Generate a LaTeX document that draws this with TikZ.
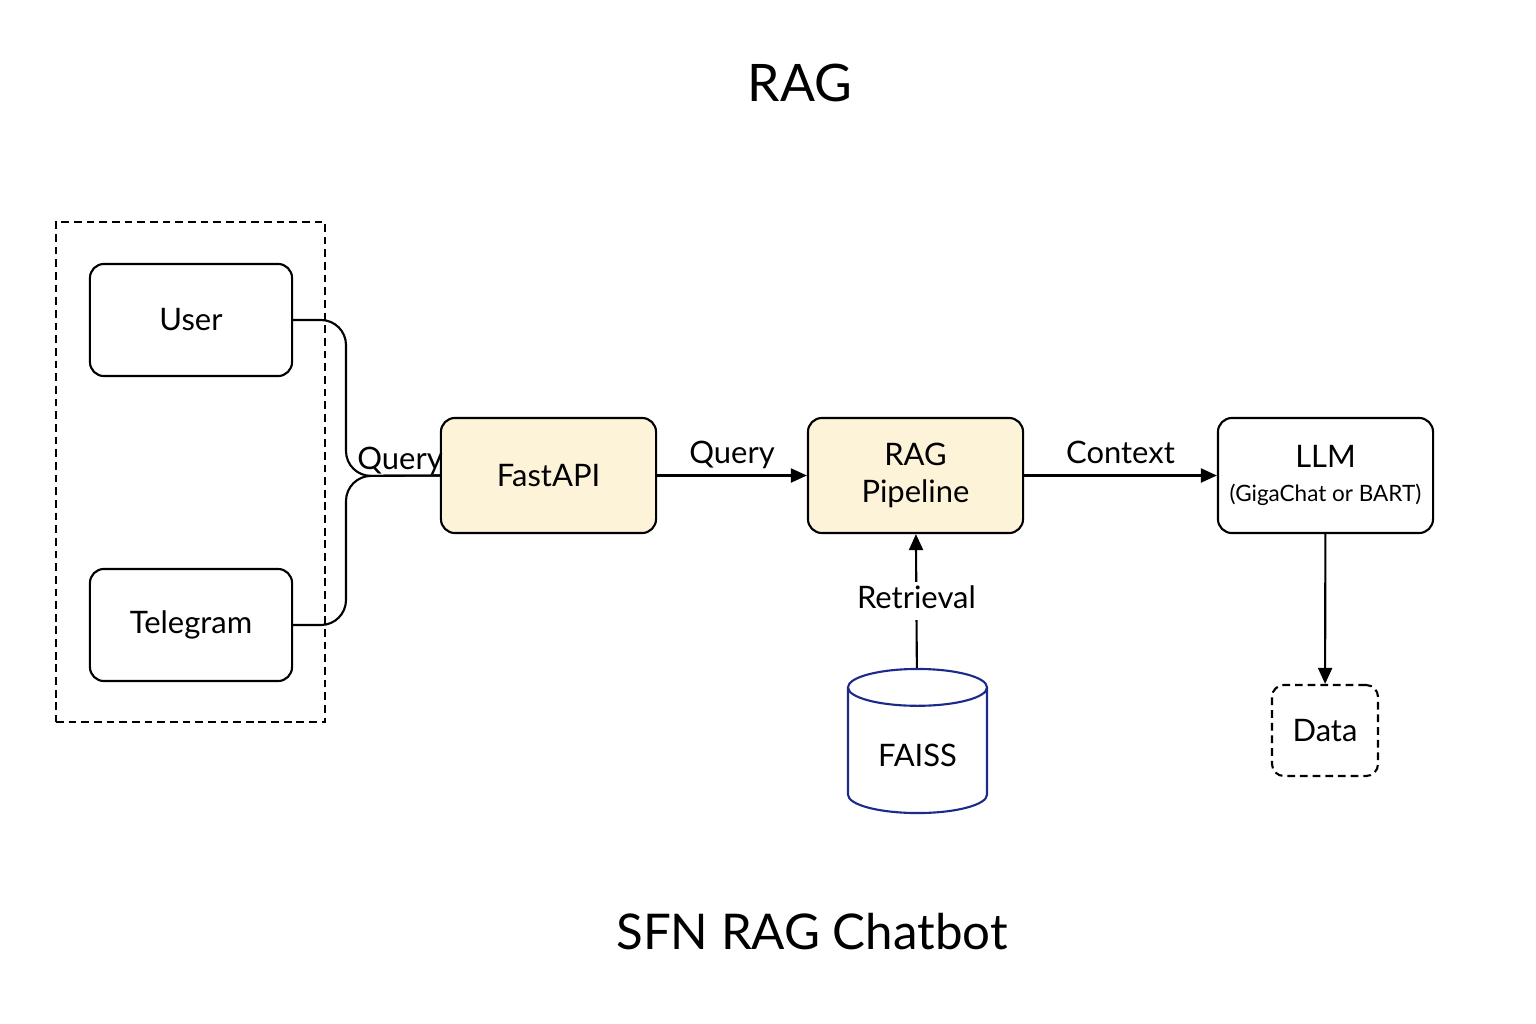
\documentclass[tikz,border=0pt]{standalone}
\usepackage{fontspec}
\setmainfont{Lato}
\usepackage{tikz}
\usetikzlibrary{positioning}
\usetikzlibrary{arrows.meta, shapes.geometric, calc}
\definecolor{paleyellow}{HTML}{FDF3D8}
\definecolor{dbblue}{HTML}{1C2A8C}

\tikzset{
    box/.style={draw, rounded corners=0.14cm, line width=0.6pt, minimum width=2.15cm,
        minimum height=1.15cm, align=center, font=\fontsize{8.8}{10.5}\selectfont},
    client/.style={box, minimum width=2.02cm, minimum height=1.12cm},
    stage/.style={box, fill=paleyellow},
    arr/.style={line width=0.6pt, -{Triangle[length=0.16cm,width=0.14cm]}},
    link/.style={line width=0.6pt, rounded corners=0.25cm},
    lbl/.style={font=\fontsize{8.8}{10.5}\selectfont, text depth=0.22em}
}

\begin{document}
\begin{tikzpicture}[x=0.01cm, y=-0.01cm]
    \useasboundingbox (0,0) rectangle (1536,1024);

    \node[font=\fontsize{14.7}{18}\selectfont] (title) at (800,83) {RAG};

    \node[draw, line width=0.6pt, dash pattern=on 2.2pt off 1.4pt,
        minimum width=2.69cm, minimum height=5cm] (clients) at (190.5,472) {};
    \node[client] (user) at (191,320) {User};
    \node[client] (telegram) at (191,625) {Telegram};

    \node[stage] (fastapi) at (548.5,475.5) {FastAPI};
    \node[stage] (rag) at (915.5,475.5) {RAG\\Pipeline};
    \node[box] (llm) at (1325.5,475.5) {LLM\\[-1pt]{\fontsize{6.4}{8}\selectfont (GigaChat or BART)}};

    \node[box, dash pattern=on 2.2pt off 1.4pt, rounded corners=0.12cm,
        minimum width=1.06cm, minimum height=0.91cm] (data) at (1325,730.5) {Data};

    \node[cylinder, shape border rotate=90, aspect=0.36, draw=dbblue, line width=0.6pt,
        minimum width=1.39cm, minimum height=1.44cm, anchor=shape center,
        font=\fontsize{8.8}{10.5}\selectfont] (faiss) at (917.5,741) {FAISS};

    \coordinate (bus) at (346,476);
    \draw[link] (user.east) -| (bus) -- (fastapi.west);
    \draw[link] (telegram.east) -| (bus) -- (fastapi.west);
    \node[lbl] (q1) at (400,462) {Query};

    \draw[arr] (fastapi) -- node[lbl, above, inner sep=1pt] {Query} (rag);
    \draw[arr] (rag) -- node[lbl, above, inner sep=1pt] {Context} (llm);
    \draw[arr] (faiss) -- node[lbl, fill=white, inner sep=1pt] {Retrieval} (rag);
    \draw[arr] (llm) -- (data);

    \node[font=\fontsize{14}{17}\selectfont] (caption) at (812,932) {SFN RAG Chatbot};
\end{tikzpicture}
\end{document}
